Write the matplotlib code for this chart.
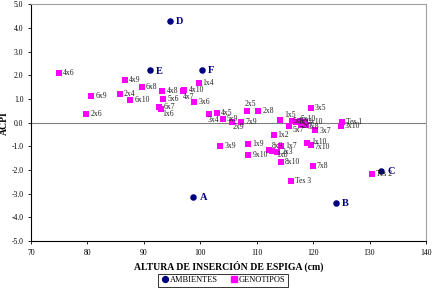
import matplotlib
matplotlib.use('Agg')
import matplotlib.pyplot as plt
from matplotlib.lines import Line2D

plt.rcParams['font.family'] = ['Liberation Serif', 'DejaVu Serif']

COLOR_AMB = '#000080'
COLOR_GEN = '#FF00FF'

# Ambientes (environments)
amb_names = ['A', 'B', 'C', 'D', 'E', 'F']
amb_x = [98.8, 124.0, 132.0, 94.6, 91.1, 100.3]
amb_y = [-3.15, -3.39, -2.04, 4.30, 2.21, 2.24]

# Genotipos
gen_names = ['4x6', '4x9', '6x8', '2x4', '6x9', '6x10', '4x8', '4x10', '4x7', '1x4',
             '5x6', '3x6', '6x7', '1x6', '2x6', '3x4', '4x5', '5x9', '2x9', '7x9',
             '2x5', '2x8', '1x5', '3x5', 'Tes 1', '3x10', '3x7', '5x7', '1x2', '3x9',
             '1x9', '9x10', '8x9', '1x8', '2x3', '1x7', '8x10', '1x10', '7x10', '7x8',
             'Tes 3', 'Tes 2', '5x8', '1x3', '5x10', '2x10', '2x7', '3x8']
gen_x = [74.9, 86.6, 89.6, 85.7, 80.7, 87.6, 93.3, 97.2, 96.9, 99.7,
         93.4, 98.9, 92.7, 93.1, 79.8, 101.6, 102.9, 104.0, 105.7, 107.2,
         108.2, 110.3, 114.1, 119.6, 125.1, 124.9, 120.4, 115.7, 113.0, 103.5,
         108.5, 108.5, 112.1, 112.8, 113.6, 114.3, 114.3, 119.0, 119.6, 119.9,
         116.1, 130.4, 116.2, 116.9, 117.6, 118.5, 117.8, 118.7]
gen_y = [2.12, 1.81, 1.51, 1.21, 1.11, 0.94, 1.36, 1.39, 1.32, 1.67,
         1.00, 0.89, 0.66, 0.58, 0.38, 0.38, 0.41, 0.17, 0.04, 0.01,
         0.51, 0.51, 0.11, 0.62, 0.04, -0.16, -0.30, -0.13, -0.51, -1.00,
         -0.90, -1.36, -1.16, -1.18, -1.24, -0.97, -1.65, -0.86, -0.94, -1.83,
         -2.45, -2.18, 0.06, 0.02, 0.08, 0.04, -0.08, -0.11]

# label offsets (points) where the default right placement is not used
label_offsets = {
    '3x4': (-1, -4.5), '2x9': (0, -4), '2x5': (-1, 4.5), '4x7': (0, -4),
    '1x6': (1, -3.5), '1x5': (3, 3.5), '8x9': (2, 3), '1x8': (3, -3),
    '5x7': (3, -3), '3x7': (3, -1), '1x10': (3, 1), '7x10': (3, -1.5),
    '5x8': (1, 0), '1x3': (1, 0), '5x10': (1, 1), '2x10': (2, 0),
    '2x7': (1, -1), '3x8': (1, -1),
}

fig = plt.figure(figsize=(4.34, 3.0), dpi=100)
ax = fig.add_axes([0.0714, 0.197, 0.910, 0.788])

ax.axhline(0, color='#808080', linewidth=0.8, zorder=1)

ax.scatter(gen_x, gen_y, marker='s', s=13, color=COLOR_GEN, linewidths=0, zorder=3)
ax.scatter(amb_x, amb_y, marker='o', s=22, color=COLOR_AMB, linewidths=0, zorder=4)

for name, x, y in zip(gen_names, gen_x, gen_y):
    dx, dy = label_offsets.get(name, (3, 0))
    ax.annotate(name, (x, y), xytext=(dx, dy), textcoords='offset points',
                fontsize=5.5, va='center', ha='left', color='#222222', zorder=5)

for name, x, y in zip(amb_names, amb_x, amb_y):
    ax.annotate(name, (x, y), xytext=(4.5, -0.5), textcoords='offset points',
                fontsize=7.5, fontweight='bold', va='center', ha='left',
                color=COLOR_AMB, zorder=5)

ax.set_xlim(70, 140)
ax.set_ylim(-5, 5)
ax.set_xticks(range(70, 141, 10))
ax.set_yticks(range(-5, 6))
ax.set_yticklabels([f'{v:.1f}' for v in range(-5, 6)])
ax.tick_params(labelsize=5.5, length=2.5, width=0.6, pad=3)

for side in ['top', 'right']:
    ax.spines[side].set_color('#a0a0a0')
for side in ['left', 'bottom']:
    ax.spines[side].set_color('black')
for sp in ax.spines.values():
    sp.set_linewidth(0.8)

ax.set_xlabel('ALTURA DE INSERCIÓN DE ESPIGA (cm)', fontsize=7, fontweight='bold', labelpad=3)
ax.set_ylabel('ACPI', fontsize=7, fontweight='bold', labelpad=2)

handles = [
    Line2D([], [], marker='o', linestyle='None', color=COLOR_AMB, markersize=4.2, label='AMBIENTES'),
    Line2D([], [], marker='s', linestyle='None', color=COLOR_GEN, markersize=3.8, label='GENOTIPOS'),
]
leg = fig.legend(handles=handles, loc='center', bbox_to_anchor=(0.514, 0.066), ncol=2,
                 fontsize=6, frameon=True, fancybox=False, edgecolor='black',
                 handletextpad=0.1, columnspacing=1.4, borderpad=0.3, handlelength=1.0)
leg.get_frame().set_linewidth(0.7)

fig.savefig('out.png', dpi=100)
